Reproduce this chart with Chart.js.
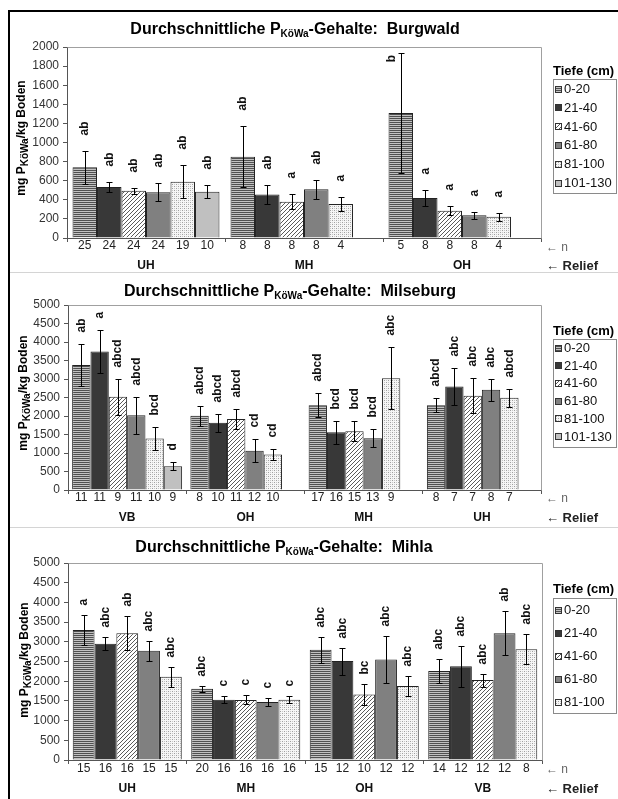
<!DOCTYPE html>
<html><head><meta charset="utf-8">
<script src="https://cdn.jsdelivr.net/npm/chart.js@4.4.1/dist/chart.umd.min.js"></script>
<style>
body{margin:0;background:#fff;width:618px;height:799px;overflow:hidden;position:relative;font-family:"Liberation Sans",Arial,sans-serif;}
.frame{position:absolute;left:8px;top:10px;width:620px;height:800px;border-left:2px solid #000;border-top:2px solid #000;z-index:5;pointer-events:none}
.sep{position:absolute;left:10px;width:608px;height:1px;background:#d4d4d4;z-index:4}
canvas{position:absolute;left:0;}
.title{position:absolute;font-weight:bold;font-size:16px;line-height:18px;white-space:nowrap;color:#000;transform:translate(-50%,-50%);z-index:3}
.title sub,.ytitle sub{font-size:10px;vertical-align:baseline;position:relative;top:3px}
.ytitle{position:absolute;font-weight:bold;font-size:12px;line-height:14px;white-space:nowrap;color:#000;transform:translate(-50%,-50%) rotate(-90deg);z-index:3}
.arrn{position:absolute;font-size:12px;line-height:14px;color:#666;transform:translateY(-50%);z-index:3;white-space:nowrap}
.arrr{position:absolute;font-size:13px;font-weight:bold;line-height:15px;color:#222;transform:translateY(-50%);z-index:3;white-space:nowrap}
</style>
</head><body>
<div class="frame"></div>
<div class="sep" style="top:272px"></div>
<div class="sep" style="top:527px"></div>

<div class="title" style="left:295px;top:30px">Durchschnittliche P<sub>KöWa</sub>-Gehalte:&nbsp; Burgwald</div>
<div class="title" style="left:290px;top:292px">Durchschnittliche P<sub>KöWa</sub>-Gehalte:&nbsp; Milseburg</div>
<div class="title" style="left:284px;top:548px">Durchschnittliche P<sub>KöWa</sub>-Gehalte:&nbsp; Mihla</div>

<div class="ytitle" style="left:21px;top:138px">mg P<sub>KöWa</sub>/kg Boden</div>
<div class="ytitle" style="left:23px;top:393px">mg P<sub>KöWa</sub>/kg Boden</div>
<div class="ytitle" style="left:24px;top:660px">mg P<sub>KöWa</sub>/kg Boden</div>

<div class="arrn" style="left:546px;top:247px">← n</div>
<div class="arrr" style="left:546px;top:265px">← Relief</div>
<div class="arrn" style="left:546px;top:498px">← n</div>
<div class="arrr" style="left:546px;top:517px">← Relief</div>
<div class="arrn" style="left:546px;top:769px">← n</div>
<div class="arrr" style="left:546px;top:788px">← Relief</div>

<canvas id="c1" width="618" height="260" style="top:12px"></canvas>
<canvas id="c2" width="618" height="255" style="top:272px"></canvas>
<canvas id="c3" width="618" height="272" style="top:527px"></canvas>

<script>
// ---------- DATA ----------
const depthLabels = ['0-20','21-40','41-60','61-80','81-100','101-130'];

// Burgwald (rows = depth, cols = relief)
const bwRelief = ['UH','MH','OH'];
const bwMean = [[740,850,1310],[535,455,420],[495,380,285],[480,510,237],[590,355,223],[485,null,null]];
const bwErr  = [[175,320,630],[55,100,80],[30,80,48],[95,100,38],[175,75,42],[70,null,null]];
const bwN    = [[25,8,5],[24,8,8],[24,8,8],[24,8,8],[19,4,4],[10,null,null]];
const bwSig  = [['ab','ab','b'],['ab','ab','a'],['ab','a','a'],['ab','ab','a'],['ab','a','a'],['ab',null,null]];
const bwTicks = [0,200,400,600,800,1000,1200,1400,1600,1800,2000];

// Milseburg
const msRelief = ['VB','OH','MH','UH'];
const msMean = [[3380,2010,2290,2290],[3740,1820,1560,2800],[2520,1920,1590,2550],[2020,1060,1400,2710],[1390,960,3020,2490],[640,null,null,null]];
const msErr  = [[560,270,330,190],[580,240,305,510],[480,270,275,480],[500,310,240,300],[320,145,840,235],[110,null,null,null]];
const msN    = [[11,8,17,8],[11,10,16,7],[9,11,15,7],[11,12,13,8],[10,10,9,7],[9,null,null,null]];
const msSig  = [['ab','abcd','abcd','abcd'],['a','abcd','bcd','abc'],['abcd','abcd','bcd','abc'],['abcd','cd','bcd','abc'],['bcd','cd','abc','abcd'],['d',null,null,null]];
const msTicks = [0,500,1000,1500,2000,2500,3000,3500,4000,4500,5000];

// Mihla
const mhRelief = ['UH','MH','OH','VB'];
const mhMean = [[3300,1810,2800,2260],[2950,1530,2510,2380],[3220,1525,1665,2030],[2770,1470,2550,3220],[2110,1530,1880,2810]];
const mhErr  = [[370,75,330,315],[170,95,340,520],[440,115,265,165],[250,95,590,550],[255,95,250,385]];
const mhN    = [[15,20,15,14],[16,16,12,12],[16,16,10,12],[15,16,12,12],[15,16,12,8]];
const mhSig  = [['a','abc','abc','abc'],['abc','c','abc','abc'],['ab','c','bc','abc'],['abc','c','abc','ab'],['abc','c','abc','abc']];
const mhTicks = msTicks;

// ---------- STYLES ----------
const FF = "'Liberation Sans', Arial, sans-serif";
Chart.defaults.font.family = FF;
function mkPat(w,h,draw){const c=document.createElement('canvas');c.width=w;c.height=h;const g=c.getContext('2d');draw(g);return g.createPattern(c,'repeat');}
const fills = [
  mkPat(4,2,g=>{g.fillStyle='#c2c2c2';g.fillRect(0,0,4,2);g.fillStyle='#505050';g.fillRect(0,0,4,1);}),
  '#383838',
  mkPat(4,4,g=>{g.fillStyle='#ffffff';g.fillRect(0,0,4,4);g.fillStyle='#5a5a5a';[[0,3],[1,2],[2,1],[3,0]].forEach(p=>g.fillRect(p[0],p[1],1,1));}),
  '#808080',
  mkPat(4,4,g=>{g.fillStyle='#f6f6f6';g.fillRect(0,0,4,4);g.fillStyle='#a0a0a0';[[0,0],[2,2]].forEach(p=>g.fillRect(p[0],p[1],1,1));g.fillStyle='#c8c8c8';[[2,0],[0,2]].forEach(p=>g.fillRect(p[0],p[1],1,1));}),
  '#c0c0c0'
];

const annot = {
  id:'annot',
  afterDatasetsDraw(chart, args, o){
    const {ctx, chartArea:a, scales:{y}} = chart;
    ctx.save();
    chart.data.datasets.forEach((ds, di) => {
      const meta = chart.getDatasetMeta(di);
      meta.data.forEach((bar, i) => {
        const v = ds.data[i]; if (v==null) return;
        const e = ds.err[i];
        const X = Math.round(bar.x)+0.5;
        const yt = Math.round(y.getPixelForValue(v+e))+0.5, yb = Math.round(y.getPixelForValue(v-e))+0.5;
        ctx.strokeStyle='#000'; ctx.lineWidth=1;
        ctx.beginPath();
        ctx.moveTo(X, yt); ctx.lineTo(X, yb);
        ctx.moveTo(X-3, yt); ctx.lineTo(X+3, yt);
        ctx.moveTo(X-3, yb); ctx.lineTo(X+3, yb);
        ctx.stroke();
        ctx.fillStyle='#222'; ctx.font='12px '+FF; ctx.textAlign='center'; ctx.textBaseline='middle';
        ctx.fillText(String(ds.n[i]), bar.x, a.bottom + o.nOff);
        const t = ds.sig[i];
        ctx.font='bold 12px '+FF;
        const w = ctx.measureText(t).width;
        let ys = yt - o.gap, lx = bar.x;
        if (ys - w < a.top + 4) { ys = a.top + 8 + w; lx = bar.x - 9; }
        ctx.save(); ctx.translate(lx, ys); ctx.rotate(-Math.PI/2);
        ctx.fillStyle='#111'; ctx.textAlign='left'; ctx.textBaseline='middle';
        ctx.fillText(t,0,0); ctx.restore();
      });
    });
    ctx.restore();
  },
  afterDraw(chart, args, o){
    const {ctx, chartArea:a} = chart;
    ctx.save();
    ctx.strokeStyle='#a0a0a0'; ctx.lineWidth=1;
    ctx.beginPath();
    ctx.moveTo(Math.round(a.left)+0.5, Math.round(a.top)+0.5);
    ctx.lineTo(Math.round(a.right)+0.5, Math.round(a.top)+0.5);
    ctx.lineTo(Math.round(a.right)+0.5, Math.round(a.bottom)+0.5);
    ctx.stroke();
    // legend
    const L = o.legend;
    ctx.fillStyle='#000'; ctx.font='bold 13px '+FF; ctx.textAlign='left'; ctx.textBaseline='middle';
    ctx.fillText('Tiefe (cm)', L.x, L.titleY);
    ctx.strokeStyle='#8a8a8a';
    ctx.strokeRect(L.x+0.5, L.boxTop+0.5, L.w, L.h);
    ctx.font='13px '+FF;
    chart.data.datasets.forEach((ds, i) => {
      const cy = L.row0 + i*L.dy;
      ctx.fillStyle = ds.backgroundColor;
      ctx.fillRect(L.x+2, Math.round(cy-3.5), 7, 7);
      ctx.strokeStyle='#333';
      ctx.strokeRect(L.x+2.5, Math.round(cy-3.5)+0.5, 6, 6);
      ctx.fillStyle='#111';
      ctx.fillText(ds.label, L.x+11, cy+0.5);
    });
    ctx.restore();
  }
};

function makePanel(id, relief, mean, err, nn, sig, ticks, P){
  const datasets = mean.map((row, i) => ({
    label: depthLabels[i], data: row, err: err[i], n: nn[i], sig: sig[i],
    backgroundColor: fills[i], borderColor: '#222', borderWidth: 1,
    categoryPercentage: P.cat, barPercentage: 1.0
  }));
  new Chart(document.getElementById(id), {
    type:'bar',
    data:{labels: relief, datasets},
    plugins:[annot],
    options:{
      responsive:false, animation:false, devicePixelRatio:1,
      layout:{padding:P.pad},
      plugins:{legend:{display:false}, tooltip:{enabled:false}, annot:{gap:P.gap, nOff:P.nOff, legend:P.legend}},
      scales:{
        x:{
          grid:{display:true, drawOnChartArea:false, drawTicks:true, tickLength:4, color:'#555', offset:true},
          border:{display:true, color:'#555'},
          ticks:{font:{size:12, weight:'bold'}, color:'#111', padding:P.tickPad, maxRotation:0},
          afterFit(s){ s.height = P.xH; }
        },
        y:{
          min:0, max:ticks[ticks.length-1],
          afterBuildTicks(s){ s.ticks = ticks.map(v=>({value:v})); },
          grid:{display:true, drawOnChartArea:false, drawTicks:true, tickLength:4, color:'#555'},
          border:{display:true, color:'#555'},
          ticks:{font:{size:12}, color:'#333', padding:4, callback:(v)=>String(v)},
          afterFit(s){ s.width = P.yW; }
        }
      }
    }
  });
}

makePanel('c1', bwRelief, bwMean, bwErr, bwN, bwSig, bwTicks, {
  pad:{left:20,right:77,top:35,bottom:0}, yW:47, xH:34, cat:0.93, gap:16, nOff:8, tickPad:16,
  legend:{x:553, titleY:59, boxTop:67, w:63, h:114, row0:77, dy:18.8}
});
makePanel('c2', msRelief, msMean, msErr, msN, msSig, msTicks, {
  pad:{left:20,right:77,top:33,bottom:0}, yW:48, xH:37, cat:0.93, gap:12, nOff:8, tickPad:16,
  legend:{x:553, titleY:59, boxTop:67, w:63, h:108, row0:76, dy:17.7}
});
makePanel('c3', mhRelief, mhMean, mhErr, mhN, mhSig, mhTicks, {
  pad:{left:20,right:76,top:36,bottom:0}, yW:48, xH:39, cat:0.92, gap:10, nOff:9, tickPad:17,
  legend:{x:553, titleY:62, boxTop:71, w:63, h:115, row0:83, dy:23}
});
</script>
</body></html>
